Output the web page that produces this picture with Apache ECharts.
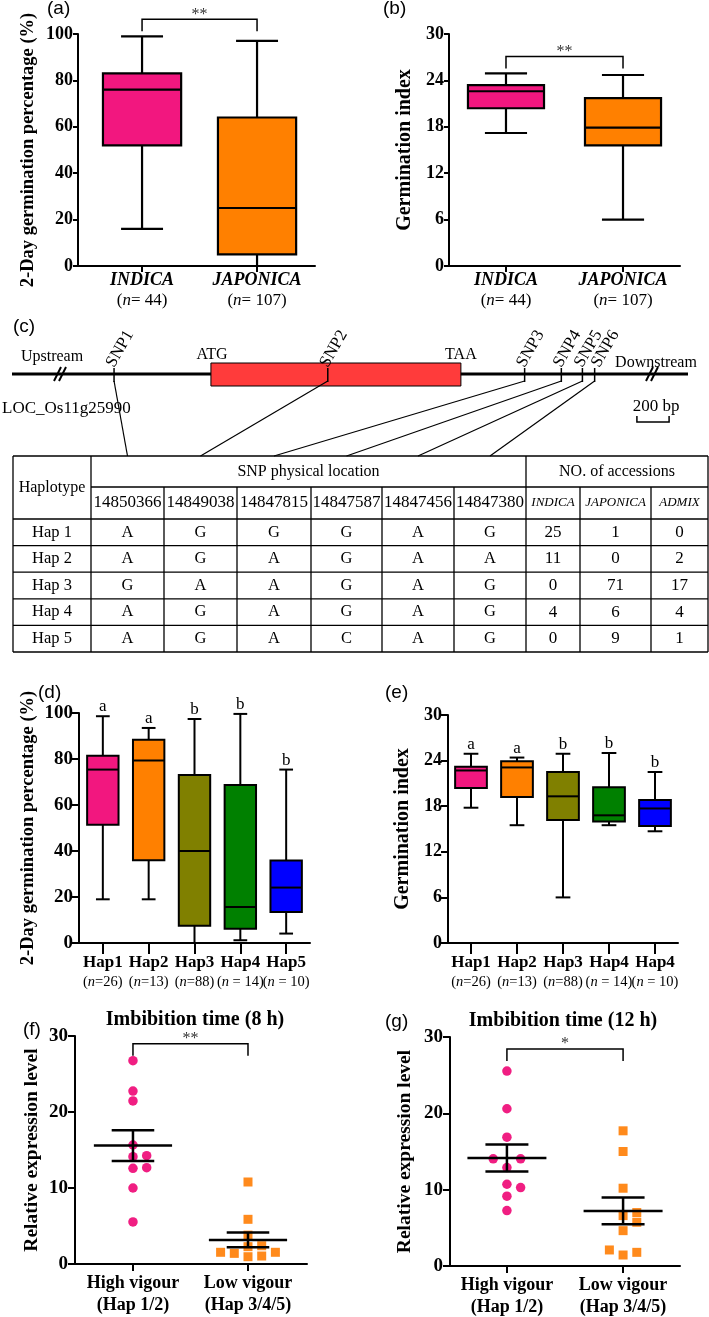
<!DOCTYPE html>
<html><head><meta charset="utf-8">
<script src="https://cdn.jsdelivr.net/npm/echarts@6/dist/echarts.min.js"></script>
<style>html,body{margin:0;padding:0;background:#fff}#c{width:709px;height:1317px}</style>
</head><body><div id="c"></div>
<script>
// ================= DATA =================
// (a)/(b) subspecies comparison, box stats = [min, Q1, median, Q3, max]
const subspecies = ['INDICA', 'JAPONICA'];
const subspeciesN = [44, 107];
const germPctA = [[16, 52, 76, 83, 99], [0, 5, 25, 64, 97]];
const germIdxB = [[17.2, 20.4, 22.6, 23.4, 24.9], [6.0, 15.6, 17.9, 21.7, 24.7]];
const sigA = '**';
const sigB = '**';

// (c) gene structure and haplotype table
const geneId = 'LOC_Os11g25990';
const snpNames = ['SNP1', 'SNP2', 'SNP3', 'SNP4', 'SNP5', 'SNP6'];
const snpLocations = [14850366, 14849038, 14847815, 14847587, 14847456, 14847380];
const geneATG = 14849764;
const geneTAA = 14848211;
const scaleBarBp = 200;
const haplotypes = ['Hap 1', 'Hap 2', 'Hap 3', 'Hap 4', 'Hap 5'];
const alleles = [
  ['A', 'G', 'G', 'G', 'A', 'G'],
  ['A', 'G', 'A', 'G', 'A', 'A'],
  ['G', 'A', 'A', 'G', 'A', 'G'],
  ['A', 'G', 'A', 'G', 'A', 'G'],
  ['A', 'G', 'A', 'C', 'A', 'G']
];
const populations = ['INDICA', 'JAPONICA', 'ADMIX'];
const indicaCounts = [25, 11, 0, 4, 0];
const japonicaCounts = [1, 0, 71, 6, 9];
const admixCounts = [0, 2, 17, 4, 1];

// (d)/(e) haplotype comparison
const hapLabelsD = ['Hap1', 'Hap2', 'Hap3', 'Hap4', 'Hap5'];
const hapLabelsE = ['Hap1', 'Hap2', 'Hap3', 'Hap4', 'Hap4'];
const hapNLabels = ['(n=26)', '(n=13)', '(n=88)', '(n = 14)', '(n = 10)'];
const germPctD = [
  [19, 51.4, 75.4, 81.4, 98.6],
  [19, 36.0, 79.3, 88.4, 93.5],
  [0, 7.5, 40.0, 73.0, 97.4],
  [1.2, 6.2, 15.7, 68.7, 99.6],
  [4.1, 13.5, 24.1, 35.9, 75.4]
];
const germIdxE = [
  [17.8, 20.4, 22.7, 23.2, 24.9],
  [15.5, 19.2, 23.1, 23.9, 24.4],
  [6.0, 16.2, 19.3, 22.5, 24.9],
  [15.5, 16.0, 16.8, 20.5, 25.0],
  [14.7, 15.4, 17.7, 18.8, 22.5]
];
const lettersD = ['a', 'a', 'b', 'b', 'b'];
const lettersE = ['a', 'a', 'b', 'b', 'b'];

// (f)/(g) relative expression
const vigourGroups = ['High vigour', 'Low vigour'];
const vigourHaps = ['(Hap 1/2)', '(Hap 3/4/5)'];
const expr8hHigh = [26.75, 22.76, 21.45, 15.66, 14.25, 14.12, 12.68, 12.59, 10.0, 5.53];
const expr8hLow = [10.79, 5.88, 3.8, 2.4, 2.28, 1.54, 1.54, 1.4, 1.05, 0.96];
const expr12hHigh = [25.54, 20.6, 16.88, 14.04, 14.04, 12.9, 10.71, 10.28, 9.14, 7.26];
const expr12hLow = [17.71, 15.0, 10.19, 7.0, 6.6, 5.73, 4.63, 2.1, 1.79, 1.44];
const sigF = '**';
const sigG = '*';

// ================= STYLE / LAYOUT =================
const SERIF = "'Liberation Serif','Times New Roman',serif";
const SANS = "'Liberation Sans',Arial,sans-serif";
const PINK = '#F2177F', ORANGE = '#FF8000', OLIVE = '#808000', GREEN = '#008000', BLUE = '#0000FF';
const DOT_PINK = '#F01E82', DOT_ORANGE = '#FF8A1C', GENE_RED = '#FF3B3B';
const tableCols = [13, 91, 164, 237, 311, 382, 454, 526, 580, 651, 708];
const tableRows = [456, 487, 519, 545.6, 572.2, 598.8, 625.4, 652];
const geneAxisMin = 14846800, geneAxisMax = 14851000;

function tstyle(text, font, align, valign, fill) {
  return { text, font, fill: fill || '#000', align: align || 'center', textAlign: align || 'center',
    verticalAlign: valign || 'middle', textVerticalAlign: valign || 'middle' };
}
function txt(text, x, y, font, align, valign, extra) {
  return Object.assign({ type: 'text', x, y, silent: true, style: tstyle(text, font, align, valign) }, extra || {});
}

// ---------- axes ----------
function yAx(gi, max, interval, name, nameGap, nameSize, tickLen, labelSize, margin) {
  return {
    type: 'value', gridIndex: gi, min: 0, max, interval, name, nameLocation: 'middle', nameRotate: 90, nameGap,
    nameTextStyle: { fontFamily: SERIF, fontWeight: 'bold', fontSize: nameSize, color: '#000' },
    axisLine: { show: true, onZero: false, lineStyle: { color: '#000', width: 2 } },
    axisTick: { show: true, length: tickLen, lineStyle: { color: '#000', width: 2 } },
    axisLabel: { fontFamily: SERIF, fontWeight: 'bold', fontSize: labelSize, color: '#000', margin },
    splitLine: { show: false }
  };
}
function xAx(gi, min, max, count, formatter, rich, tickLen, margin) {
  const vals = Array.from({ length: count }, (_, i) => i);
  return {
    type: 'value', gridIndex: gi, min, max,
    axisLine: { show: true, onZero: false, lineStyle: { color: '#000', width: 2 } },
    axisTick: { show: true, customValues: vals, length: tickLen, lineStyle: { color: '#000', width: 2 } },
    axisLabel: formatter ? { customValues: vals, formatter, rich, margin, color: '#000', hideOverlap: false,
      showMinLabel: true, showMaxLabel: true } : { show: false },
    splitLine: { show: false }
  };
}

// ---------- series builders ----------
const richDE = {
  h: { fontFamily: SERIF, fontWeight: 'bold', fontSize: 17, lineHeight: 20, fill: '#000' },
  p: { fontFamily: SERIF, fontSize: 14.5, lineHeight: 20, fill: '#000' },
  i: { fontFamily: SERIF, fontStyle: 'italic', fontSize: 14.5, lineHeight: 20, fill: '#000' }
};
const nItal = s => s.replace(/^\(n/, '{p|(}{i|n}{p|') + '}';

function boxSeries(ai, stats, colors, boxFrac, capFrac, lw, letters, catLabels) {
  return {
    type: 'custom', xAxisIndex: ai, yAxisIndex: ai, coordinateSystem: 'cartesian2d', silent: true,
    data: stats.map((s, i) => [i].concat(s)),
    encode: { x: 0, y: [1, 2, 3, 4, 5] },
    renderItem(params, api) {
      const i = params.dataIndex;
      const x = api.value(0);
      const unit = api.size([1, 0])[0];
      const bw = unit * boxFrac, cw = unit * capFrac;
      const base = api.coord([x, 0]);
      const cx = base[0];
      const y = k => api.coord([x, api.value(k)])[1];
      const yMin = y(1), yQ1 = y(2), yMed = y(3), yQ3 = y(4), yMax = y(5);
      const ls = { stroke: '#000', lineWidth: lw, fill: null };
      const ch = [
        { type: 'line', shape: { x1: cx, y1: yQ3, x2: cx, y2: yMax }, style: ls },
        { type: 'line', shape: { x1: cx - cw / 2, y1: yMax, x2: cx + cw / 2, y2: yMax }, style: ls },
        { type: 'line', shape: { x1: cx, y1: yQ1, x2: cx, y2: yMin }, style: ls },
        { type: 'line', shape: { x1: cx - cw / 2, y1: yMin, x2: cx + cw / 2, y2: yMin }, style: ls },
        { type: 'rect', shape: { x: cx - bw / 2, y: yQ3, width: bw, height: yQ1 - yQ3 }, style: { fill: colors[i], stroke: '#000', lineWidth: lw } },
        { type: 'line', shape: { x1: cx - bw / 2, y1: yMed, x2: cx + bw / 2, y2: yMed }, style: ls }
      ];
      if (letters) ch.push({ type: 'text', x: cx, y: yMax - 1, style: tstyle(letters[i], `17px ${SERIF}`, 'center', 'bottom') });
      if (catLabels) ch.push({ type: 'text', x: cx, y: base[1] + 9.5,
        style: { text: `{h|${catLabels[i]}}\n` + nItal(hapNLabels[i]), rich: richDE, fill: '#000',
          align: 'center', textAlign: 'center', verticalAlign: 'top', textVerticalAlign: 'top' } });
      return { type: 'group', children: ch };
    }
  };
}
function sigSeries(ai, maxVal, text, gap) {
  return {
    type: 'custom', xAxisIndex: ai, yAxisIndex: ai, coordinateSystem: 'cartesian2d', silent: true, z: 5,
    data: [[0, 1, maxVal]], encode: { x: [0, 1], y: 2 },
    renderItem(p, api) {
      const a = api.coord([api.value(0), api.value(2)]), b = api.coord([api.value(1), api.value(2)]);
      const legs = a[1] - gap, bar = legs - 12;
      return { type: 'group', children: [
        { type: 'polyline', shape: { points: [[a[0], legs], [a[0], bar], [b[0], bar], [b[0], legs]] }, style: { stroke: '#000', lineWidth: 1.5, fill: null } },
        { type: 'text', x: (a[0] + b[0]) / 2, y: bar - 5, style: tstyle(text, `16px ${SERIF}`, 'center', 'middle', '#333') }
      ] };
    }
  };
}
function swarm(vals, T) {
  const idx = vals.map((v, i) => i).sort((a, b) => vals[a] - vals[b]);
  const cols = new Array(vals.length).fill(0);
  const order = [0, 1, -1, 2, -2, 3, -3, 4, -4];
  let start = null, k = 0;
  idx.forEach(i => {
    if (start === null || vals[i] - start > T) { start = vals[i]; k = 0; }
    cols[i] = order[k++];
  });
  return cols;
}
function dotSeries(ai, xPos, vals, symbol, size, color) {
  const cols = swarm(vals, 1.25);
  return {
    type: 'scatter', xAxisIndex: ai, yAxisIndex: ai, symbol, symbolSize: size, silent: true, z: 2,
    itemStyle: { color, opacity: 1 },
    data: vals.map((v, i) => ({ value: [xPos, v], symbolOffset: [cols[i] * 13.7, 0] }))
  };
}
function meanSem(vals) {
  const n = vals.length, m = vals.reduce((a, b) => a + b, 0) / n;
  const sd = Math.sqrt(vals.reduce((a, b) => a + (b - m) * (b - m), 0) / (n - 1));
  return [m, sd / Math.sqrt(n)];
}
function errSeries(ai, groups) {
  return {
    type: 'custom', xAxisIndex: ai, yAxisIndex: ai, coordinateSystem: 'cartesian2d', silent: true, z: 10,
    data: groups.map((g, i) => [i].concat(meanSem(g))), encode: { x: 0, y: 1 },
    renderItem(p, api) {
      const x = api.value(0), m = api.value(1), s = api.value(2);
      const unit = api.size([1, 0])[0];
      const c = api.coord([x, m]), t = api.coord([x, m + s]), b = api.coord([x, m - s]);
      const mw = unit * 0.68 / 2, cw = unit * 0.37 / 2;
      const ls = { stroke: '#000', lineWidth: 2.5, fill: null };
      return { type: 'group', children: [
        { type: 'line', shape: { x1: c[0] - mw, y1: c[1], x2: c[0] + mw, y2: c[1] }, style: ls },
        { type: 'line', shape: { x1: c[0], y1: t[1], x2: c[0], y2: b[1] }, style: ls },
        { type: 'line', shape: { x1: c[0] - cw, y1: t[1], x2: c[0] + cw, y2: t[1] }, style: ls },
        { type: 'line', shape: { x1: c[0] - cw, y1: b[1], x2: c[0] + cw, y2: b[1] }, style: ls }
      ] };
    }
  };
}

// ---------- gene structure (grid 2) ----------
const GENE_Y = 374;
const geneSeries = {
  type: 'custom', xAxisIndex: 2, yAxisIndex: 2, coordinateSystem: 'cartesian2d', silent: true,
  data: [[geneATG, geneTAA, 0.5]], encode: { x: [0, 1], y: 2 },
  renderItem(p, api) {
    const cs = p.coordSys;
    const xa = api.coord([api.value(0), 0.5])[0], xb = api.coord([api.value(1), 0.5])[0];
    const ch = [{ type: 'line', shape: { x1: cs.x, y1: GENE_Y, x2: cs.x + cs.width, y2: GENE_Y }, style: { stroke: '#000', lineWidth: 3 } }];
    [cs.x + 48, cs.x + cs.width - 36].forEach(bx => {
      [-2.5, 2.5].forEach(d => ch.push({ type: 'line', shape: { x1: bx + d - 3.5, y1: GENE_Y + 7, x2: bx + d + 3.5, y2: GENE_Y - 7 }, style: { stroke: '#000', lineWidth: 2 } }));
    });
    ch.push({ type: 'rect', shape: { x: Math.min(xa, xb), y: 363, width: Math.abs(xb - xa), height: 23 }, style: { fill: GENE_RED, stroke: '#000', lineWidth: 1 } });
    ch.push({ type: 'text', x: xa + 1, y: 355, style: tstyle('ATG', `16px ${SERIF}`) });
    ch.push({ type: 'text', x: xb, y: 355, style: tstyle('TAA', `16px ${SERIF}`) });
    return { type: 'group', children: ch };
  }
};
const snpSeries = {
  type: 'custom', xAxisIndex: 2, yAxisIndex: 2, coordinateSystem: 'cartesian2d', silent: true, z: 4,
  data: snpLocations.map(l => [l, 0.5]), encode: { x: 0, y: 1 },
  renderItem(p, api) {
    const i = p.dataIndex;
    const xs = snpLocations.map(l => api.coord([l, 0.5])[0]);
    let ax = -Infinity;
    for (let j = 0; j <= i; j++) ax = Math.max(xs[j] - 4, ax + 17);
    const x = xs[i];
    const colC = (tableCols[i + 1] + tableCols[i + 2]) / 2;
    return { type: 'group', children: [
      { type: 'line', shape: { x1: x, y1: 368, x2: x, y2: 382 }, style: { stroke: '#000', lineWidth: 1.5 } },
      { type: 'line', shape: { x1: x, y1: 381, x2: colC, y2: tableRows[0] }, style: { stroke: '#000', lineWidth: 1.2 } },
      { type: 'text', x: ax, y: 366, rotation: Math.PI / 3, style: tstyle(snpNames[i], `17px ${SERIF}`, 'left', 'middle') }
    ] };
  }
};
const scaleSeries = {
  type: 'custom', xAxisIndex: 2, yAxisIndex: 2, coordinateSystem: 'cartesian2d', silent: true,
  data: [[geneAxisMin + scaleBarBp, 0.5]], encode: { x: 0, y: 1 },
  renderItem(p, api) {
    const w = Math.abs(api.coord([geneAxisMin + scaleBarBp, 0.5])[0] - api.coord([geneAxisMin, 0.5])[0]);
    const cx = 653;
    return { type: 'group', children: [
      { type: 'polyline', shape: { points: [[cx - w / 2, 416], [cx - w / 2, 422], [cx + w / 2, 422], [cx + w / 2, 416]] }, style: { stroke: '#000', lineWidth: 1.5, fill: null } },
      { type: 'text', x: 656, y: 407, style: tstyle(scaleBarBp + ' bp', `17px ${SERIF}`) }
    ] };
  }
};

// ---------- table (graphic) ----------
const tbl = [];
const C = tableCols, R = tableRows, mid = (a, b) => (a + b) / 2;
const L = (x1, y1, x2, y2) => tbl.push({ type: 'line', silent: true, shape: { x1, y1, x2, y2 }, style: { stroke: '#000', lineWidth: 1.3 } });
L(C[0], R[0], C[10], R[0]);
L(C[1], R[1], C[10], R[1]);
for (let r = 2; r < R.length; r++) L(C[0], R[r], C[10], R[r]);
[0, 1, 7, 10].forEach(c => L(C[c], R[0], C[c], R[R.length - 1]));
[2, 3, 4, 5, 6, 8, 9].forEach(c => L(C[c], R[1], C[c], R[R.length - 1]));
tbl.push(txt('Haplotype', mid(C[0], C[1]), mid(R[0], R[2]), `16px ${SERIF}`));
tbl.push(txt('SNP physical location', mid(C[1], C[7]), mid(R[0], R[1]), `16px ${SERIF}`));
tbl.push(txt('NO. of accessions', mid(C[7], C[10]), mid(R[0], R[1]), `16px ${SERIF}`));
snpLocations.forEach((l, i) => tbl.push(txt(String(l), mid(C[i + 1], C[i + 2]), mid(R[1], R[2]), `17px ${SERIF}`)));
populations.forEach((pp, i) => tbl.push(txt(pp, mid(C[i + 7], C[i + 8]), mid(R[1], R[2]), `italic 13px ${SERIF}`)));
haplotypes.forEach((h, r) => {
  const yc = mid(R[r + 2], R[r + 3]);
  tbl.push(txt(h, mid(C[0], C[1]), yc, `16.5px ${SERIF}`));
  alleles[r].forEach((a, i) => tbl.push(txt(a, mid(C[i + 1], C[i + 2]), yc, `16.5px ${SERIF}`)));
  [indicaCounts[r], japonicaCounts[r], admixCounts[r]].forEach((n, i) => tbl.push(txt(String(n), mid(C[i + 7], C[i + 8]), yc, `17px ${SERIF}`)));
});

const labels = [
  txt('(a)', 47, 9, `19px ${SANS}`, 'left'),
  txt('(b)', 383, 9, `19px ${SANS}`, 'left'),
  txt('(c)', 13, 327, `19px ${SANS}`, 'left'),
  txt('(d)', 38, 693, `19px ${SANS}`, 'left'),
  txt('(e)', 385, 693, `19px ${SANS}`, 'left'),
  txt('(f)', 23, 1030, `19px ${SANS}`, 'left'),
  txt('(g)', 385, 1022, `19px ${SANS}`, 'left'),
  txt('Imbibition time (8 h)', 195, 1020, `bold 20px ${SERIF}`),
  txt('Imbibition time (12 h)', 563, 1021, `bold 20px ${SERIF}`),
  txt('Upstream', 52, 357, `16px ${SERIF}`),
  txt('Downstream', 656, 363, `16px ${SERIF}`),
  txt(geneId, 2, 409, `17px ${SERIF}`, 'left')
];

// ---------- label formatters ----------
const richAB = {
  c: { fontFamily: SERIF, fontStyle: 'italic', fontWeight: 'bold', fontSize: 18, lineHeight: 19.5, color: '#000' },
  p: { fontFamily: SERIF, fontSize: 17, lineHeight: 19.5, color: '#000' },
  i: { fontFamily: SERIF, fontStyle: 'italic', fontSize: 17, lineHeight: 19.5, color: '#000' }
};
const fmtAB = v => { const k = Math.round(v); return `{c|${subspecies[k]}}\n{p|(}{i|n}{p|= ${subspeciesN[k]})}`; };
const richFG = { b: { fontFamily: SERIF, fontWeight: 'bold', fontSize: 18, lineHeight: 22, color: '#000' } };
const fmtFG = v => { const k = Math.round(v); return `{b|${vigourGroups[k]}}\n{b|${vigourHaps[k]}}`; };

const maxOf = arr => Math.max.apply(null, arr);
const BOXCOLS = [PINK, ORANGE, OLIVE, GREEN, BLUE];

const option = {
  backgroundColor: '#fff',
  animation: false,
  grid: [
    { left: 78, top: 34, width: 237, height: 232 },
    { left: 449, top: 34, width: 231, height: 232 },
    { left: 12, top: 360, width: 676, height: 30 },
    { left: 79, top: 713, width: 231, height: 230 },
    { left: 448, top: 715, width: 230, height: 228 },
    { left: 75, top: 1036, width: 232, height: 228 },
    { left: 450, top: 1037, width: 230, height: 229 }
  ],
  xAxis: [
    xAx(0, -0.557, 1.504, 2, fmtAB, richAB, 6, 5),
    xAx(1, -0.487, 1.487, 2, fmtAB, richAB, 6, 5),
    { type: 'value', gridIndex: 2, min: geneAxisMin, max: geneAxisMax, inverse: true, show: false },
    xAx(3, -0.52, 4.52, 5, null, null, 11, 0),
    xAx(4, -0.5, 4.5, 5, null, null, 11, 0),
    xAx(5, -0.504, 1.513, 2, fmtFG, richFG, 7, 8),
    xAx(6, -0.49, 1.49, 2, fmtFG, richFG, 7, 8)
  ],
  yAxis: [
    yAx(0, 100, 20, '2-Day germination percentage (%)', 40, 18.5, 5, 18, 5),
    yAx(1, 30, 6, 'Germination index', 34, 20, 5, 18, 5),
    { type: 'value', gridIndex: 2, min: 0, max: 1, show: false },
    yAx(3, 100, 20, '2-Day germination percentage (%)', 41, 18.5, 7, 19, 6),
    yAx(4, 30, 6, 'Germination index', 35, 20, 7, 18, 6),
    yAx(5, 30, 10, 'Relative expression level', 33, 19.5, 7, 19, 7),
    yAx(6, 30, 10, 'Relative expression level', 35, 19.5, 7, 19, 7)
  ],
  series: [
    boxSeries(0, germPctA, [PINK, ORANGE], 0.68, 0.365, 2.2),
    sigSeries(0, maxOf(germPctA.map(s => s[4])), sigA, 5),
    boxSeries(1, germIdxB, [PINK, ORANGE], 0.65, 0.36, 2.2),
    sigSeries(1, maxOf(germIdxB.map(s => s[4])), sigB, 5),
    geneSeries, snpSeries, scaleSeries,
    boxSeries(3, germPctD, BOXCOLS, 0.685, 0.3, 2, lettersD, hapLabelsD),
    boxSeries(4, germIdxE, BOXCOLS, 0.69, 0.32, 2, lettersE, hapLabelsE),
    dotSeries(5, 0, expr8hHigh, 'circle', 9.5, DOT_PINK),
    dotSeries(5, 1, expr8hLow, 'rect', 9, DOT_ORANGE),
    errSeries(5, [expr8hHigh, expr8hLow]),
    sigSeries(5, Math.max(maxOf(expr8hHigh), maxOf(expr8hLow)), sigF, 5),
    dotSeries(6, 0, expr12hHigh, 'circle', 9.5, DOT_PINK),
    dotSeries(6, 1, expr12hLow, 'rect', 9, DOT_ORANGE),
    errSeries(6, [expr12hHigh, expr12hLow]),
    sigSeries(6, Math.max(maxOf(expr12hHigh), maxOf(expr12hLow)), sigG, 10)
  ],
  graphic: { elements: labels.concat(tbl) }
};

const chart = echarts.init(document.getElementById('c'), null, { renderer: 'canvas', width: 709, height: 1317 });
chart.setOption(option);
</script>
</body></html>
